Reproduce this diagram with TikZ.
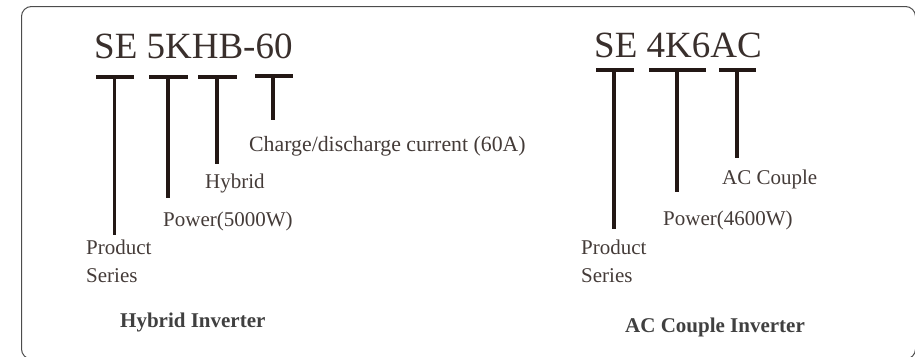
\documentclass[tikz,border=0pt]{standalone}
\usepackage{fontspec}
\setmainfont{Liberation Serif}
\definecolor{inkdark}{HTML}{231815}
\definecolor{inkgrey}{HTML}{404040}

\begin{document}
\begin{tikzpicture}[x=1pt,y=-1pt,
  code text/.style={inner sep=0pt,anchor=base west,text=inkdark!90!white,font=\fontsize{37}{37}\selectfont},
  part label/.style={inner sep=0pt,anchor=base west,align=left,text=inkdark!85!white,font=\fontsize{21}{28}\selectfont},
  type label/.style={inner sep=0pt,anchor=base west,text=inkgrey,font=\fontsize{21}{21}\selectfont\bfseries},
  bar line/.style={draw=inkdark,line width=4pt},
  stem line/.style={draw=inkdark,line width=3.6pt}]
  \useasboundingbox (0,0) rectangle (915,356);
  \clip (0,0) rectangle (915,356);
  \draw[draw=black!70,line width=1pt,rounded corners=10pt] (21.5,6.5) rectangle (915.5,359);

  \node[code text] (hybridcode) at (94,58) {SE 5KHB-60};
  \node[code text] (accode) at (594,57) {SE 4K6AC};

  \node[part label] (hseries) at (86,282) {Product\\Series};
  \node[part label] (hpower) at (163,226) {Power(5000W)};
  \node[part label] (hhybrid) at (205,188) {Hybrid};
  \node[part label,font=\fontsize{21.8}{28}\selectfont] (hcurrent) at (249,151) {Charge/discharge current (60A)};
  \node[type label] (htitle) at (120,327) {Hybrid Inverter};

  \node[part label] (aseries) at (581,282) {Product\\Series};
  \node[part label] (apower) at (663,225) {Power(4600W)};
  \node[part label] (acouple) at (722,184) {AC Couple};
  \node[type label] (atitle) at (625,332) {AC Couple Inverter};

  % left group
  \coordinate (h1a) at (96,76.5);
  \coordinate (h1b) at (134,76.5);
  \coordinate (h1t) at (114.5,76.5);
  \coordinate (h1e) at (114.5,235);
  \coordinate (h2a) at (149,76.5);
  \coordinate (h2b) at (188,76.5);
  \coordinate (h2t) at (168,76.5);
  \coordinate (h2e) at (168,198);
  \coordinate (h3a) at (198,76.5);
  \coordinate (h3b) at (237,76.5);
  \coordinate (h3t) at (217,76.5);
  \coordinate (h3e) at (217,164);
  \coordinate (h4a) at (255,76);
  \coordinate (h4b) at (293,76);
  \coordinate (h4t) at (273,76);
  \coordinate (h4e) at (273,120);

  % right group
  \coordinate (a1a) at (596,70);
  \coordinate (a1b) at (634,70);
  \coordinate (a1t) at (614,70);
  \coordinate (a1e) at (614,229);
  \coordinate (a2a) at (649,70);
  \coordinate (a2b) at (706,70);
  \coordinate (a2t) at (677,70);
  \coordinate (a2e) at (677,192);
  \coordinate (a3a) at (719,70);
  \coordinate (a3b) at (756,70);
  \coordinate (a3t) at (737,70);
  \coordinate (a3e) at (737,158);

  \path[bar line]
    (h1a) -- (h1b)
    (h2a) -- (h2b)
    (h3a) -- (h3b)
    (h4a) -- (h4b)
    (a1a) -- (a1b)
    (a2a) -- (a2b)
    (a3a) -- (a3b);
  \path[stem line]
    (h1t) -- (h1e)
    (h2t) -- (h2e)
    (h3t) -- (h3e)
    (h4t) -- (h4e)
    (a1t) -- (a1e)
    (a2t) -- (a2e)
    (a3t) -- (a3e);
\end{tikzpicture}
\end{document}
